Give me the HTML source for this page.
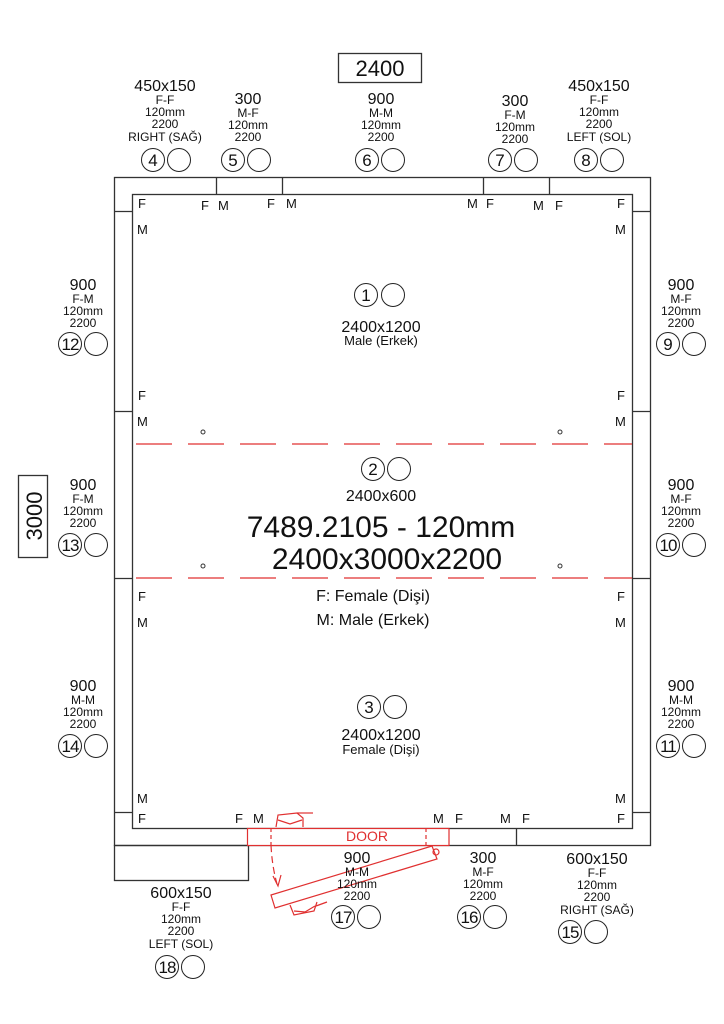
<!DOCTYPE html>
<html><head><meta charset="utf-8"><style>
html,body{margin:0;padding:0;background:#fff;}
svg{display:block;font-family:"Liberation Sans",Arial,sans-serif;}
</style></head><body>
<svg width="724" height="1024" viewBox="0 0 724 1024" xmlns="http://www.w3.org/2000/svg">
<rect width="724" height="1024" fill="#fff"/>
<g fill="none" stroke="#333" stroke-width="1.3">
<rect x="114.5" y="177.5" width="536" height="668"/>
<rect x="132.5" y="194.5" width="500" height="634"/>
<line x1="216.5" y1="177" x2="216.5" y2="194"/>
<line x1="282.5" y1="177" x2="282.5" y2="194"/>
<line x1="483.5" y1="177" x2="483.5" y2="194"/>
<line x1="549.5" y1="177" x2="549.5" y2="194"/>
<line x1="114" y1="211.5" x2="132" y2="211.5"/>
<line x1="632" y1="211.5" x2="650" y2="211.5"/>
<line x1="114" y1="411.5" x2="132" y2="411.5"/>
<line x1="632" y1="411.5" x2="650" y2="411.5"/>
<line x1="114" y1="578.5" x2="132" y2="578.5"/>
<line x1="632" y1="578.5" x2="650" y2="578.5"/>
<line x1="114" y1="812.5" x2="132" y2="812.5"/>
<line x1="632" y1="812.5" x2="650" y2="812.5"/>
<line x1="516.5" y1="828" x2="516.5" y2="845"/>
<rect x="114.5" y="845.5" width="134" height="35"/>
<rect x="338.5" y="53.5" width="83" height="29"/>
<rect x="18.5" y="475.5" width="29" height="82"/>
</g>
<rect x="248" y="828" width="201" height="17" fill="#fff"/>
<g fill="none" stroke="#e03030" stroke-width="1.2">
<rect x="247.5" y="828.5" width="201.5" height="17"/>
<line x1="271" y1="828" x2="271" y2="845" stroke-dasharray="4 3"/>
<line x1="426" y1="828" x2="426" y2="845" stroke-dasharray="4 3"/>
<path d="M271 845 Q272 866 277 884" stroke-dasharray="7 4"/>
<path d="M273 876 L278 886 L281 875"/>
<path d="M271 895 L432 846 L437 859 L275 908 Z"/>
<circle cx="436" cy="852" r="3"/>
<path d="M276 827 L278 815 L297 813 L303 818 L303 827"/>
<path d="M278 820 L290 824 L302 820"/>
<path d="M297 813 L313 813"/>
<path d="M290 905 L294 915 L314 911 L317 902"/>
<path d="M294 911 L305 912 L315 906"/>
<path d="M316 906 L327 902"/>
<line x1="133" y1="444" x2="632" y2="444" stroke-dasharray="36 16" stroke-dashoffset="-3"/>
<line x1="133" y1="578" x2="632" y2="578" stroke-dasharray="36 16" stroke-dashoffset="-3"/>
</g>
<text x="367" y="841" font-size="14" fill="#e03030" text-anchor="middle">DOOR</text>
<g fill="none" stroke="#333" stroke-width="1">
<circle cx="203" cy="432" r="2"/><circle cx="560" cy="432" r="2"/>
<circle cx="203" cy="566" r="2"/><circle cx="560" cy="566" r="2"/>
</g>
<g fill="#111" font-size="13">
<text x="138" y="208">F</text><text x="201" y="210">F</text><text x="218" y="210">M</text>
<text x="267" y="208">F</text><text x="286" y="208">M</text>
<text x="467" y="208">M</text><text x="486" y="208">F</text><text x="533" y="210">M</text><text x="555" y="210">F</text><text x="617" y="208">F</text>
<text x="137" y="234">M</text><text x="615" y="234">M</text>
<text x="138" y="400">F</text><text x="617" y="400">F</text>
<text x="137" y="426">M</text><text x="615" y="426">M</text>
<text x="138" y="601">F</text><text x="617" y="601">F</text>
<text x="137" y="627">M</text><text x="615" y="627">M</text>
<text x="137" y="803">M</text><text x="615" y="803">M</text>
<text x="138" y="823">F</text><text x="235" y="823">F</text><text x="253" y="823">M</text>
<text x="433" y="823">M</text><text x="455" y="823">F</text><text x="500" y="823">M</text><text x="522" y="823">F</text><text x="617" y="823">F</text>
</g>
<g fill="#111" text-anchor="middle">
<text x="380" y="76" font-size="22">2400</text>
<text transform="translate(42,516) rotate(-90)" font-size="22">3000</text>
<text x="381" y="332" font-size="16">2400x1200</text>
<text x="381" y="345" font-size="13">Male (Erkek)</text>
<text x="381" y="501" font-size="16">2400x600</text>
<text x="381" y="537" font-size="30">7489.2105 - 120mm</text>
<text x="387" y="569" font-size="30">2400x3000x2200</text>
<text x="373" y="601" font-size="16">F: Female (Dişi)</text>
<text x="373" y="625" font-size="16">M: Male (Erkek)</text>
<text x="381" y="740" font-size="16">2400x1200</text>
<text x="381" y="754" font-size="13">Female (Dişi)</text>
</g>
<g fill="#111" text-anchor="middle">
<text x="165" y="91" font-size="16">450x150</text><text x="165" y="104" font-size="12">F-F</text><text x="165" y="116" font-size="12">120mm</text><text x="165" y="128" font-size="12">2200</text><text x="165" y="141" font-size="12">RIGHT (SAĞ)</text>
<text x="248" y="104" font-size="16">300</text><text x="248" y="117" font-size="12">M-F</text><text x="248" y="129" font-size="12">120mm</text><text x="248" y="141" font-size="12">2200</text>
<text x="381" y="104" font-size="16">900</text><text x="381" y="117" font-size="12">M-M</text><text x="381" y="129" font-size="12">120mm</text><text x="381" y="141" font-size="12">2200</text>
<text x="515" y="106" font-size="16">300</text><text x="515" y="119" font-size="12">F-M</text><text x="515" y="131" font-size="12">120mm</text><text x="515" y="143" font-size="12">2200</text>
<text x="599" y="91" font-size="16">450x150</text><text x="599" y="104" font-size="12">F-F</text><text x="599" y="116" font-size="12">120mm</text><text x="599" y="128" font-size="12">2200</text><text x="599" y="141" font-size="12">LEFT (SOL)</text>
<text x="83" y="290" font-size="16">900</text><text x="83" y="303" font-size="12">F-M</text><text x="83" y="315" font-size="12">120mm</text><text x="83" y="327" font-size="12">2200</text>
<text x="83" y="490" font-size="16">900</text><text x="83" y="503" font-size="12">F-M</text><text x="83" y="515" font-size="12">120mm</text><text x="83" y="527" font-size="12">2200</text>
<text x="83" y="691" font-size="16">900</text><text x="83" y="704" font-size="12">M-M</text><text x="83" y="716" font-size="12">120mm</text><text x="83" y="728" font-size="12">2200</text>
<text x="681" y="290" font-size="16">900</text><text x="681" y="303" font-size="12">M-F</text><text x="681" y="315" font-size="12">120mm</text><text x="681" y="327" font-size="12">2200</text>
<text x="681" y="490" font-size="16">900</text><text x="681" y="503" font-size="12">M-F</text><text x="681" y="515" font-size="12">120mm</text><text x="681" y="527" font-size="12">2200</text>
<text x="681" y="691" font-size="16">900</text><text x="681" y="704" font-size="12">M-M</text><text x="681" y="716" font-size="12">120mm</text><text x="681" y="728" font-size="12">2200</text>
<text x="357" y="863" font-size="16">900</text><text x="357" y="876" font-size="12">M-M</text><text x="357" y="888" font-size="12">120mm</text><text x="357" y="900" font-size="12">2200</text>
<text x="483" y="863" font-size="16">300</text><text x="483" y="876" font-size="12">M-F</text><text x="483" y="888" font-size="12">120mm</text><text x="483" y="900" font-size="12">2200</text>
<text x="597" y="864" font-size="16">600x150</text><text x="597" y="877" font-size="12">F-F</text><text x="597" y="889" font-size="12">120mm</text><text x="597" y="901" font-size="12">2200</text><text x="597" y="914" font-size="12">RIGHT (SAĞ)</text>
<text x="181" y="898" font-size="16">600x150</text><text x="181" y="911" font-size="12">F-F</text><text x="181" y="923" font-size="12">120mm</text><text x="181" y="935" font-size="12">2200</text><text x="181" y="948" font-size="12">LEFT (SOL)</text>
</g>
<g fill="none" stroke="#222" stroke-width="1">
<circle cx="153" cy="160" r="11.5"/><circle cx="179" cy="160" r="11.5"/>
<circle cx="233" cy="160" r="11.5"/><circle cx="259" cy="160" r="11.5"/>
<circle cx="367" cy="160" r="11.5"/><circle cx="393" cy="160" r="11.5"/>
<circle cx="500" cy="160" r="11.5"/><circle cx="526" cy="160" r="11.5"/>
<circle cx="586" cy="160" r="11.5"/><circle cx="612" cy="160" r="11.5"/>
<circle cx="366" cy="295" r="11.5"/><circle cx="393" cy="295" r="11.5"/>
<circle cx="373" cy="469" r="11.5"/><circle cx="399" cy="469" r="11.5"/>
<circle cx="369" cy="707" r="11.5"/><circle cx="395" cy="707" r="11.5"/>
<circle cx="70" cy="344" r="11.5"/><circle cx="96" cy="344" r="11.5"/>
<circle cx="70" cy="545" r="11.5"/><circle cx="96" cy="545" r="11.5"/>
<circle cx="70" cy="746" r="11.5"/><circle cx="96" cy="746" r="11.5"/>
<circle cx="668" cy="344" r="11.5"/><circle cx="694" cy="344" r="11.5"/>
<circle cx="668" cy="545" r="11.5"/><circle cx="694" cy="545" r="11.5"/>
<circle cx="668" cy="746" r="11.5"/><circle cx="694" cy="746" r="11.5"/>
<circle cx="343" cy="917" r="11.5"/><circle cx="369" cy="917" r="11.5"/>
<circle cx="469" cy="917" r="11.5"/><circle cx="495" cy="917" r="11.5"/>
<circle cx="570" cy="932" r="11.5"/><circle cx="596" cy="932" r="11.5"/>
<circle cx="167" cy="967" r="11.5"/><circle cx="193" cy="967" r="11.5"/>
</g>
<g fill="#111" font-size="17" text-anchor="middle">
<text x="153" y="166">4</text><text x="233" y="166">5</text><text x="367" y="166">6</text><text x="500" y="166">7</text><text x="586" y="166">8</text>
<text x="366" y="301">1</text><text x="373" y="475">2</text><text x="369" y="713">3</text>
<text x="70" y="350" letter-spacing="-1">12</text><text x="70" y="551" letter-spacing="-1">13</text><text x="70" y="752" letter-spacing="-1">14</text>
<text x="668" y="350">9</text><text x="668" y="551" letter-spacing="-1">10</text><text x="668" y="752" letter-spacing="-1">11</text>
<text x="343" y="923" letter-spacing="-1">17</text><text x="469" y="923" letter-spacing="-1">16</text><text x="570" y="938" letter-spacing="-1">15</text><text x="167" y="973" letter-spacing="-1">18</text>
</g>
</svg>
</body></html>
